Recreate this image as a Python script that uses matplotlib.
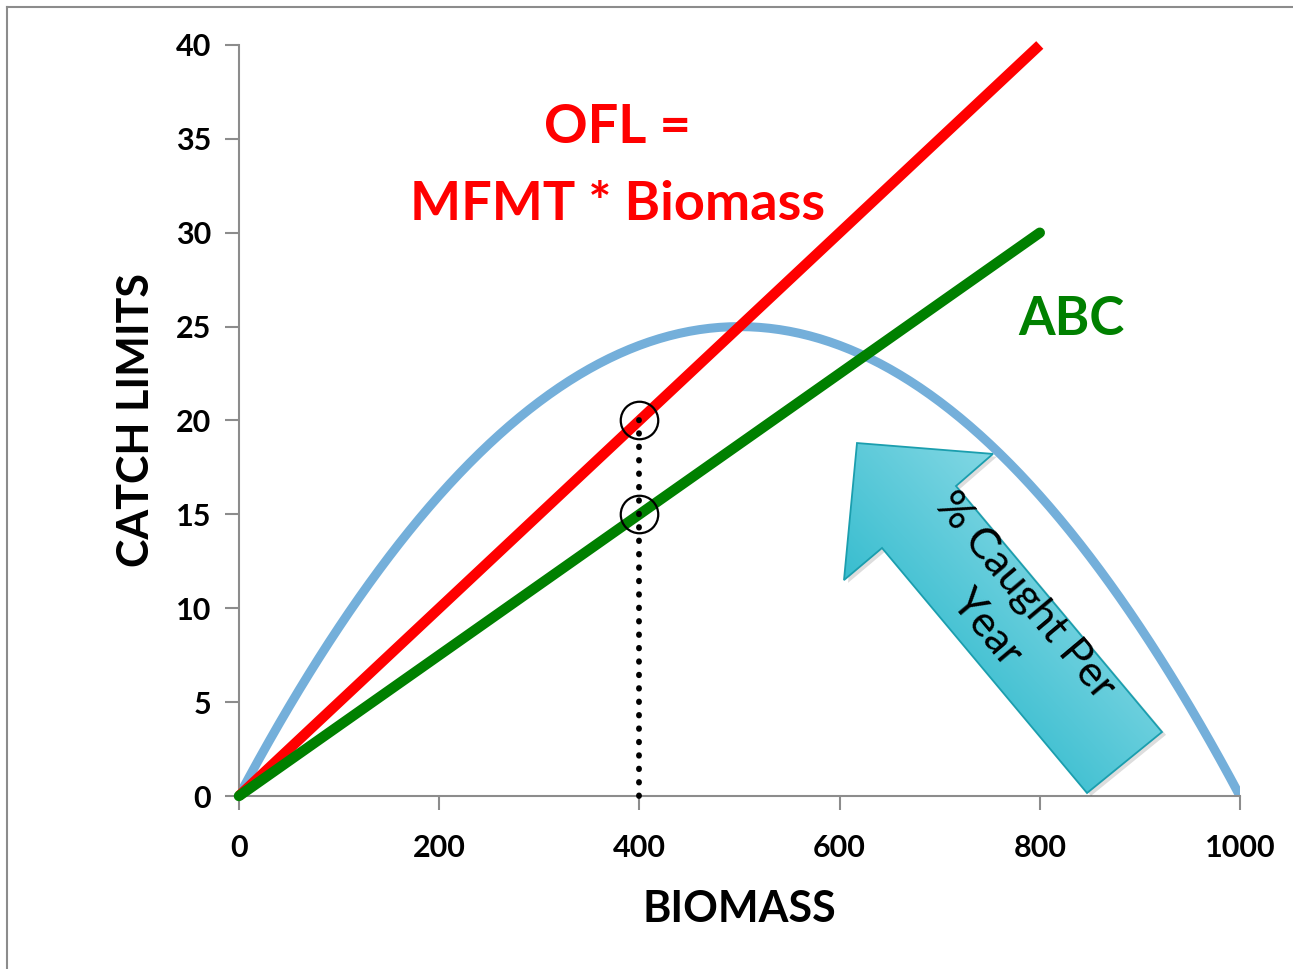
import numpy as np
import matplotlib.pyplot as plt
from matplotlib.patches import Polygon
from matplotlib.lines import Line2D

# data
biomass = np.linspace(0, 1000, 201)
surplus = 0.1 * biomass * (1 - biomass / 1000)   # production curve, peak 25 at 500
line_x = [0, 800]
ofl_y = [0, 40]
abc_y = [0, 30]
mark_x = 400
mark_y = [20, 15]
xticks = [0, 200, 400, 600, 800, 1000]
yticks = [0, 5, 10, 15, 20, 25, 30, 35, 40]
# arrow outline (data units)
arrow_pts = [(617.4, 18.80), (753.2, 18.22), (716.3, 16.51), (922.1, 3.41),
             (847.2, 0.16), (642.4, 13.21), (604.4, 11.50)]

plt.rcParams['font.family'] = ['Lato', 'DejaVu Sans']
plt.rcParams['font.weight'] = 'bold'

fig = plt.figure(figsize=(12.93, 9.69), dpi=100)
ax = fig.add_axes([0.1848, 0.1785, 0.7742, 0.7751])

ax.plot(biomass, surplus, color='#74afda', lw=6.5, solid_capstyle='butt', zorder=2)
ax.plot(line_x, ofl_y, color='#ff0000', lw=7.5, solid_capstyle='butt', clip_on=False, zorder=3)
ax.plot(line_x, abc_y, color='#008000', lw=7.5, solid_capstyle='round', clip_on=False, zorder=4)

ax.plot([mark_x, mark_x], [0, mark_y[0]], color='black', lw=4.2,
        linestyle=(0, (0.1, 2.2)), dash_capstyle='round', clip_on=False, zorder=5)
ax.plot([mark_x] * 2, mark_y, linestyle='none', marker='o', ms=27,
        mfc='none', mec='black', mew=1.6, zorder=6)

# gradient arrow
poly = Polygon(arrow_pts, closed=True, facecolor='none', edgecolor='#1b9eae', lw=1.3, zorder=8)
shadow = Polygon([(x + 4, y - 0.15) for x, y in arrow_pts], closed=True,
                 facecolor='#00000022', edgecolor='none', zorder=6.5)
ax.add_patch(shadow)
ax.add_patch(poly)
xs = [p[0] for p in arrow_pts]
ys = [p[1] for p in arrow_pts]
gx, gy = np.meshgrid(np.linspace(0, 1, 200), np.linspace(0, 1, 200))
t = np.clip((gx + gy) / 2, 0, 1)
c0 = np.array([0x02, 0xaa, 0xc0]) / 255
c1 = np.array([0xb4, 0xe9, 0xf2]) / 255
img = c0[None, None, :] * (1 - t[..., None]) + c1[None, None, :] * t[..., None]
im = ax.imshow(img, extent=[min(xs), max(xs), min(ys), max(ys)], origin='lower',
               aspect='auto', zorder=7, interpolation='bilinear')
clip = Polygon(arrow_pts, closed=True, transform=ax.transData)
im.set_clip_path(clip)

ax.text(766, 9.8, '% Caught Per\nYear', rotation=-50, rotation_mode='anchor',
        ha='center', va='center', fontsize=31, fontweight='normal', linespacing=1.4, zorder=9)

ax.text(378, 35.6, 'OFL =', color='#ff0000', fontsize=39, ha='center', va='center')
ax.text(378, 31.5, 'MFMT * Biomass', color='#ff0000', fontsize=39, ha='center', va='center')
ax.text(832, 25.4, 'ABC', color='#008000', fontsize=38, ha='center', va='center')

ax.set_xlim(0, 1000)
ax.set_ylim(0, 40)
ax.set_xticks(xticks)
ax.set_yticks(yticks)
ax.tick_params(axis='both', colors='#8c8c8c', width=1.5, length=10, labelsize=22,
               labelcolor='black')
ax.tick_params(axis='x', pad=17)
ax.tick_params(axis='y', pad=10)
for s in ['top', 'right']:
    ax.spines[s].set_visible(False)
for s in ['left', 'bottom']:
    ax.spines[s].set_color('#8c8c8c')
    ax.spines[s].set_linewidth(1.5)

ax.set_xlabel('BIOMASS', fontsize=31, fontweight='bold', labelpad=20)
ax.set_ylabel('CATCH LIMITS', fontsize=31, fontweight='bold', labelpad=14)

# outer frame (left and top only)
fig.add_artist(Line2D([0.0055, 0.0055], [0, 0.9925], color='#8c8c8c', lw=1.5, transform=fig.transFigure))
fig.add_artist(Line2D([0.0055, 1], [0.9925, 0.9925], color='#8c8c8c', lw=1.5, transform=fig.transFigure))

fig.savefig('out.png', dpi=100)
